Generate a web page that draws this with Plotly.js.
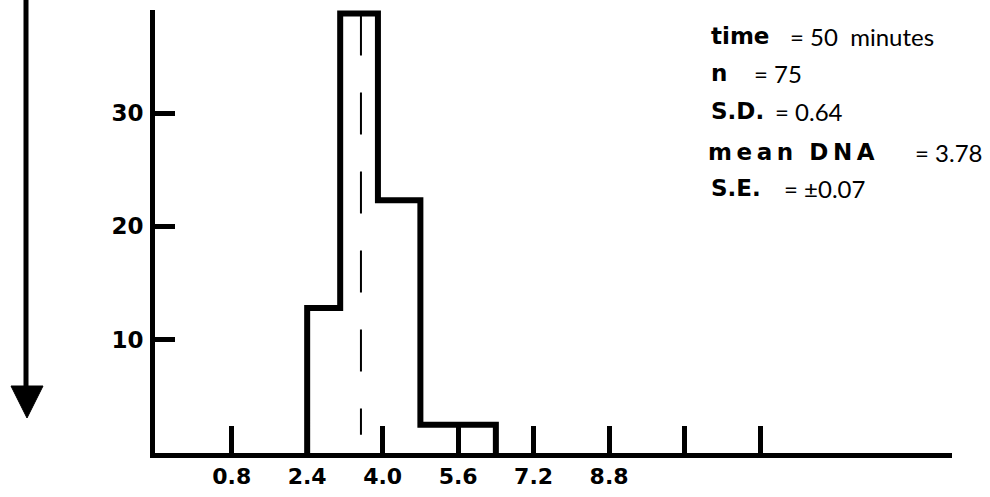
<!DOCTYPE html>
<html>
<head>
<meta charset="utf-8">
<script src="https://cdn.plot.ly/plotly-3.0.1.min.js"></script>
<style>html,body{margin:0;padding:0;background:#fff;}#chart{width:990px;height:497px;}</style>
</head>
<body>
<div id="chart"></div>
<script>
// ---- data ----
const binEdges = [2.4, 3.1, 3.9, 4.8, 5.6, 6.4];
const binCounts = [12.8, 38.8, 22.3, 2.5, 2.5];
const xTickValues = [0.8, 2.4, 4.0, 5.6, 7.2, 8.8, 10.4, 12.0];
const xTickLabels = ["0.8", "2.4", "4.0", "5.6", "7.2", "8.8", "", ""];
const yTickValues = [10, 20, 30];
const yTickLabels = ["10", "20", "30"];
const meanLineX = [3.54, 3.54];
const meanLineY = [38.8, 1.6];
const statLabels = ["time", "n", "S.D.", "m\u2009e\u2009a\u2009n\u00a0\u00a0D\u2009N\u2009A", "S.E."];
const statValues = ["= 50\u00a0 minutes", "= 75", "= 0.64", "= 3.78", "= \u00b10.07"];

// ---- build step outline from bins ----
const stepX = [binEdges[0]].concat(binEdges);
const stepY = [0].concat(binCounts, [0]);

const W = 990, H = 497;
const M = {l: 155, r: 38, t: 10, b: 44};
const pw = W - M.l - M.r, ph = H - M.t - M.b;
const px = x => (x - M.l) / pw;
const py = y => (M.t + ph - y) / ph;

const labelPos = [[709, 36], [709, 73], [709, 111], [706, 152], [709, 188]];
const valuePos = [[788, 37], [752, 73], [773, 111], [913, 152], [782, 188]];

const annotations = [];
statLabels.forEach((t, i) => {
  annotations.push({
    xref: 'paper', yref: 'paper', x: px(labelPos[i][0]), y: py(labelPos[i][1]),
    xanchor: 'left', yanchor: 'middle', showarrow: false, text: t,
    font: {family: 'DejaVu Sans', size: 23, weight: 'bold', color: '#000'}
  });
  annotations.push({
    xref: 'paper', yref: 'paper', x: px(valuePos[i][0]), y: py(valuePos[i][1]),
    xanchor: 'left', yanchor: 'middle', showarrow: false, text: statValues[i],
    font: {family: 'Lato', size: 24, color: '#000'}
  });
});

const traces = [
  {
    x: stepX, y: stepY, type: 'scatter', mode: 'lines',
    line: {shape: 'hv', color: '#000', width: 6},
    hoverinfo: 'skip', cliponaxis: false
  },
  {
    x: meanLineX, y: meanLineY, type: 'scatter', mode: 'lines',
    line: {color: '#000', width: 2, dash: '42px,37px'},
    hoverinfo: 'skip'
  }
];

const layout = {
  width: W, height: H,
  margin: M,
  paper_bgcolor: '#fff', plot_bgcolor: '#fff',
  showlegend: false,
  xaxis: {
    range: [-0.826, 16.07], showgrid: false, zeroline: false,
    showline: true, linewidth: 5, linecolor: '#000',
    ticks: 'inside', ticklen: 27, tickwidth: 5, tickcolor: '#000',
    tickmode: 'array', tickvals: xTickValues, ticktext: xTickLabels,
    tickfont: {family: 'DejaVu Sans', size: 22, weight: 'bold', color: '#000'},
    fixedrange: true
  },
  yaxis: {
    range: [0, 39.1], showgrid: false, zeroline: false,
    showline: true, linewidth: 5, linecolor: '#000',
    ticks: 'inside', ticklen: 20, tickwidth: 5, tickcolor: '#000',
    tickmode: 'array', tickvals: yTickValues, ticktext: yTickLabels,
    tickfont: {family: 'DejaVu Sans', size: 23, weight: 'bold', color: '#000'},
    ticklabelstandoff: 2,
    fixedrange: true
  },
  shapes: [
    {type: 'line', xref: 'paper', yref: 'paper',
     x0: px(26), x1: px(26), y0: py(-5), y1: py(392),
     line: {color: '#000', width: 5}},
    {type: 'path', xref: 'paper', yref: 'paper',
     path: 'M ' + px(11) + ',' + py(386) + ' L ' + px(43) + ',' + py(386) + ' L ' + px(27) + ',' + py(418) + ' Z',
     fillcolor: '#000', line: {color: '#000', width: 1}}
  ],
  annotations: annotations
};

Plotly.newPlot('chart', traces, layout, {displayModeBar: false, staticPlot: true});
</script>
</body>
</html>
